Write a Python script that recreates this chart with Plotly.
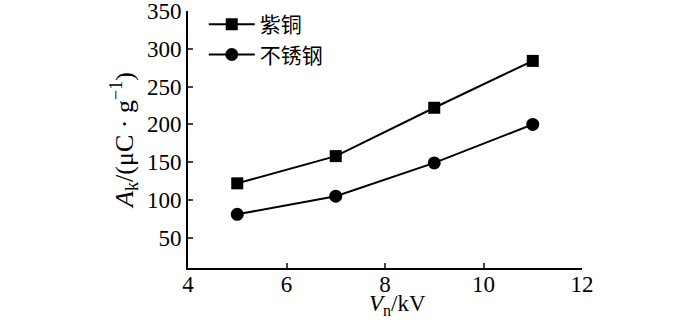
import plotly.graph_objects as go

# Charge density vs. voltage for two electrode materials
voltage_kv = [5, 7, 9, 11]
copper = [122, 158, 222, 284]        # 紫铜
stainless = [81, 105, 149, 200]      # 不锈钢
series_names = ["紫铜", "不锈钢"]
x_ticks = [4, 6, 8, 10, 12]
y_ticks = [50, 100, 150, 200, 250, 300, 350]

TIMES = "Liberation Serif, Times New Roman, serif"

fig = go.Figure()
fig.add_trace(go.Scatter(
    x=voltage_kv, y=copper, name=series_names[0], mode="lines+markers",
    line=dict(color="black", width=2),
    marker=dict(symbol="square", size=12, color="black"),
))
fig.add_trace(go.Scatter(
    x=voltage_kv, y=stainless, name=series_names[1], mode="lines+markers",
    line=dict(color="black", width=2),
    marker=dict(symbol="circle", size=13, color="black"),
))

axis_common = dict(
    ticks="inside", ticklen=5, tickwidth=2, showline=True, linecolor="black",
    linewidth=2, showgrid=False, zeroline=False, automargin=False,
    ticklabeloverflow="allow", tickfont=dict(family=TIMES, size=23, color="black"),
)

fig.update_layout(
    width=700, height=324,
    margin=dict(l=188, r=118, t=11, b=56, autoexpand=False),
    paper_bgcolor="white", plot_bgcolor="white",
    font=dict(family=TIMES, size=22, color="black"),
    legend=dict(
        x=0.04, y=1.027, xanchor="left", yanchor="top",
        bgcolor="rgba(0,0,0,0)", font=dict(family="Noto Sans CJK SC", size=21),
        itemwidth=46, tracegroupgap=0,
    ),
    xaxis=dict(range=[4, 12], tickvals=x_ticks, ticklabelstandoff=-6, **axis_common),
    yaxis=dict(
        range=[10, 350], tickvals=y_ticks, **axis_common,
        title=dict(text="<i>A</i><sub>k</sub>/(μC · g<sup>−1</sup>)", standoff=6,
                   font=dict(family=TIMES, size=26)),
    ),
)

# x-axis title, set slightly right of the plot centre
fig.add_annotation(
    text="<i>V</i><sub>n</sub>/kV", xref="paper", yref="paper",
    x=(397 - 188) / 394, y=-(305 - 268) / 257, xanchor="center", yanchor="middle",
    showarrow=False, font=dict(family=TIMES, size=23, color="black"),
)

fig.write_html("out.html")
